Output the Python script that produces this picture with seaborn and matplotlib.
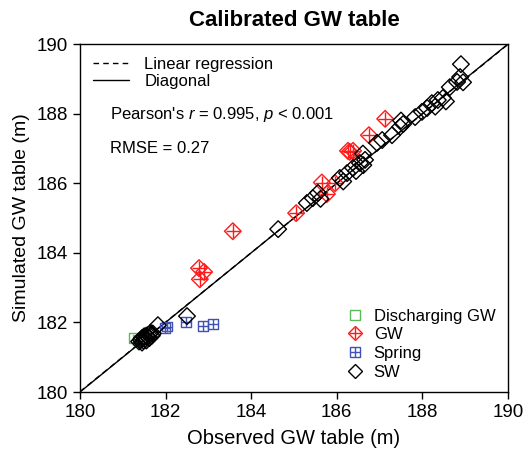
import numpy as np
import pandas as pd
import matplotlib
matplotlib.use("Agg")
import matplotlib.pyplot as plt
from matplotlib.lines import Line2D
import seaborn as sns

# ---------------- data ----------------
dis_obs = [181.25, 181.35]
dis_sim = [181.55, 181.50]

gw_obs = [182.78, 182.90, 182.80, 183.57, 185.05, 185.65, 185.77, 185.96,
          186.26, 186.38, 186.30, 186.75, 187.13]
gw_sim = [183.56, 183.45, 183.24, 184.62, 185.14, 186.02, 185.69, 186.00,
          186.93, 186.93, 186.90, 187.38, 187.85]

spr_obs = [181.99, 182.03, 182.48, 182.87, 183.11]
spr_sim = [181.84, 181.88, 182.01, 181.90, 181.95]

sw_obs = [181.38, 181.42, 181.45, 181.48, 181.50, 181.52, 181.55, 181.58,
          181.60, 181.62, 181.65, 181.68, 181.70, 181.45, 181.55, 181.50,
          181.82, 182.50, 184.63, 185.30, 185.44, 185.56, 185.62, 186.07,
          186.15, 186.24, 186.38, 186.45, 186.54, 186.62, 186.66, 186.61,
          186.94, 187.06, 187.29, 187.48, 187.50, 187.55, 187.83, 187.99,
          188.11, 188.22, 188.30, 188.36, 188.48, 188.55, 188.64, 188.81,
          188.88, 188.95, 188.90]
sw_sim = [181.45, 181.50, 181.55, 181.48, 181.60, 181.52, 181.62, 181.58,
          181.65, 181.55, 181.70, 181.62, 181.68, 181.42, 181.48, 181.57,
          181.92, 182.18, 184.68, 185.43, 185.57, 185.72, 185.55, 186.15,
          186.05, 186.29, 186.44, 186.35, 186.58, 186.52, 186.67, 186.85,
          187.16, 187.24, 187.38, 187.62, 187.80, 187.70, 187.90, 188.05,
          188.16, 188.30, 188.20, 188.39, 188.45, 188.35, 188.76, 188.91,
          189.05, 188.90, 189.42]

# fitted regression (as reported in the figure)
reg_slope = 0.998
reg_intercept = 0.37

categories = ["Discharging GW", "GW", "Spring", "SW"]
colors = ["#5cb85c", "#ff1a1a", "#3f51b5", "#000000"]
stats_text = ["Pearson's $r$ = 0.995, $p$ < 0.001", "RMSE = 0.27"]
ticks = [180, 182, 184, 186, 188, 190]

# ---------------- style ----------------
sns.set_theme(style="ticks")
plt.rcParams["font.family"] = ["Liberation Sans", "DejaVu Sans"]
plt.rcParams["mathtext.fontset"] = "custom"
plt.rcParams["mathtext.rm"] = "Liberation Sans"
plt.rcParams["mathtext.it"] = "Liberation Sans:italic"
plt.rcParams["text.color"] = "black"
plt.rcParams["axes.labelcolor"] = "black"

fig = plt.figure(figsize=(5.28, 4.65), dpi=100)
ax = fig.add_axes([80 / 528, 1 - 392 / 465, 428 / 528, 348 / 465])

# lines
xx = np.array([180, 190])
ax.plot(xx, xx, color="black", lw=1.0, zorder=1)
ax.plot(xx, reg_slope * xx + reg_intercept, color="black", lw=1.0,
        ls=(0, (4, 3)), zorder=1)

ms = 72
lw = 1.0
sns.scatterplot(x=dis_obs, y=dis_sim, marker="s", s=50, facecolor="none",
                edgecolor=colors[0], linewidth=lw, ax=ax, zorder=3)
sns.scatterplot(x=gw_obs, y=gw_sim, marker="D", s=ms, facecolor="none",
                edgecolor=colors[1], linewidth=lw, ax=ax, zorder=3)
sns.scatterplot(x=gw_obs, y=gw_sim, marker="+", s=ms * 1.3, color=colors[1],
                linewidth=lw, ax=ax, zorder=3)
sns.scatterplot(x=spr_obs, y=spr_sim, marker="s", s=50, facecolor="none",
                edgecolor=colors[2], linewidth=lw, ax=ax, zorder=3)
sns.scatterplot(x=spr_obs, y=spr_sim, marker="+", s=50, color=colors[2],
                linewidth=lw, ax=ax, zorder=3)
sns.scatterplot(x=sw_obs, y=sw_sim, marker="D", s=ms, facecolor="none",
                edgecolor=colors[3], linewidth=lw, ax=ax, zorder=4)

ax.set_xlim(180, 190)
ax.set_ylim(180, 190)
ax.set_xticks(ticks)
ax.set_yticks(ticks)
ax.tick_params(direction="out", length=5, width=1, labelsize=13.5,
               colors="black")
for sp in ax.spines.values():
    sp.set_linewidth(1.0)
    sp.set_color("black")
ax.set_xlabel("Observed GW table (m)", fontsize=14.5, labelpad=6)
ax.set_ylabel("Simulated GW table (m)", fontsize=14, labelpad=5)
ax.set_title("Calibrated GW table", fontsize=16, fontweight="bold", pad=13,
             color="black")

# line legend
line_handles = [Line2D([], [], color="black", lw=1.0, ls=(0, (4, 3))),
                Line2D([], [], color="black", lw=1.0)]
leg1 = ax.legend(line_handles, ["Linear regression", "Diagonal"], loc="upper left",
                 frameon=False, fontsize=12, handlelength=2.2, borderaxespad=0.45,
                 labelspacing=0.15, borderpad=0.3, handletextpad=0.9,
                 labelcolor="black")
ax.add_artist(leg1)

ax.text(0.07, 0.796, stats_text[0], transform=ax.transAxes, fontsize=12,
        va="center", ha="left", color="black")
ax.text(0.07, 0.701, stats_text[1], transform=ax.transAxes, fontsize=12,
        va="center", ha="left", color="black")

# marker legend
h_dis = Line2D([], [], marker="s", ls="none", mfc="none", mec=colors[0], ms=6.5, mew=lw)
h_gw = (Line2D([], [], marker="D", ls="none", mfc="none", mec=colors[1], ms=7, mew=lw),
        Line2D([], [], marker="+", ls="none", color=colors[1], ms=8, mew=lw))
h_spr = (Line2D([], [], marker="s", ls="none", mfc="none", mec=colors[2], ms=6.5, mew=lw),
         Line2D([], [], marker="+", ls="none", color=colors[2], ms=6.5, mew=lw))
h_sw = Line2D([], [], marker="D", ls="none", mfc="none", mec=colors[3], ms=7, mew=lw)
ax.legend([h_dis, h_gw, h_spr, h_sw], categories, loc="lower right",
          frameon=False, fontsize=12, handlelength=1.0, handletextpad=0.6,
          labelspacing=0.22, borderaxespad=0.35, labelcolor="black")

fig.savefig("out.png", dpi=100)
